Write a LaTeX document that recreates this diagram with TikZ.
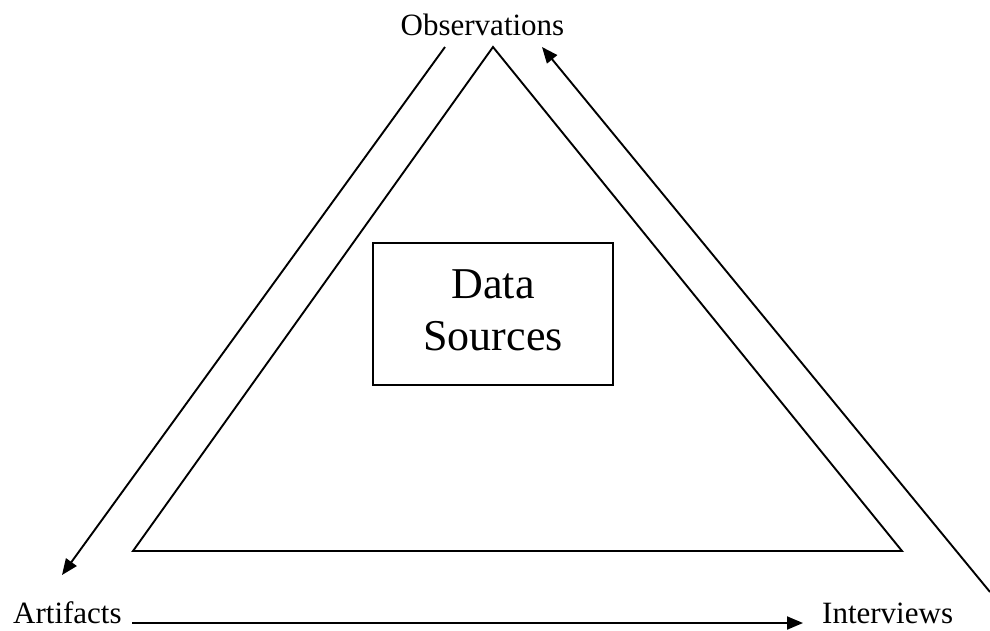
\documentclass[tikz,border=0pt]{standalone}
\usepackage{fontspec}
\setmainfont{Liberation Serif}
\usetikzlibrary{arrows.meta}
\begin{document}
\begin{tikzpicture}[x=1pt,y=-1pt,
  line/.style={line width=1.9pt},
  arr/.style={line width=1.9pt,-{Triangle[length=16pt,width=13pt]}},
  lbl/.style={inner sep=0pt,font=\fontsize{31}{36}\selectfont},
  box/.style={draw,line width=2.3pt,minimum width=240pt,minimum height=142pt,inner sep=0pt},
  dstext/.style={inner sep=0pt,font=\fontsize{44}{52}\selectfont}]
\useasboundingbox (0,0) rectangle (990,630);
% labels
\node[lbl,anchor=base] (obs) at (482.5,35) {Observations};
\node[lbl,anchor=base west] (art) at (13,623) {Artifacts};
\node[lbl,anchor=base west] (int) at (822,623) {Interviews};
% triangle
\coordinate (apex) at (493,47);
\coordinate (bl) at (133,551);
\coordinate (br) at (902,551);
\draw[line,line join=miter] (apex) -- (bl) -- (br) -- cycle;
% central box
\node[box] (ds) at (493,314) {};
\node[dstext,anchor=base] (ds1) at (493,298) {Data};
\node[dstext,anchor=base] (ds2) at (493,350) {Sources};
% arrows
\coordinate (l1) at (445,47);
\coordinate (l2) at (62,575);
\draw[arr] (l1) -- (l2);
\coordinate (r1) at (990,592);
\coordinate (r2) at (542,47);
\draw[arr] (r1) -- (r2);
\coordinate (b1) at (132,623);
\coordinate (b2) at (803,623);
\draw[arr] (b1) -- (b2);
\end{tikzpicture}
\end{document}
